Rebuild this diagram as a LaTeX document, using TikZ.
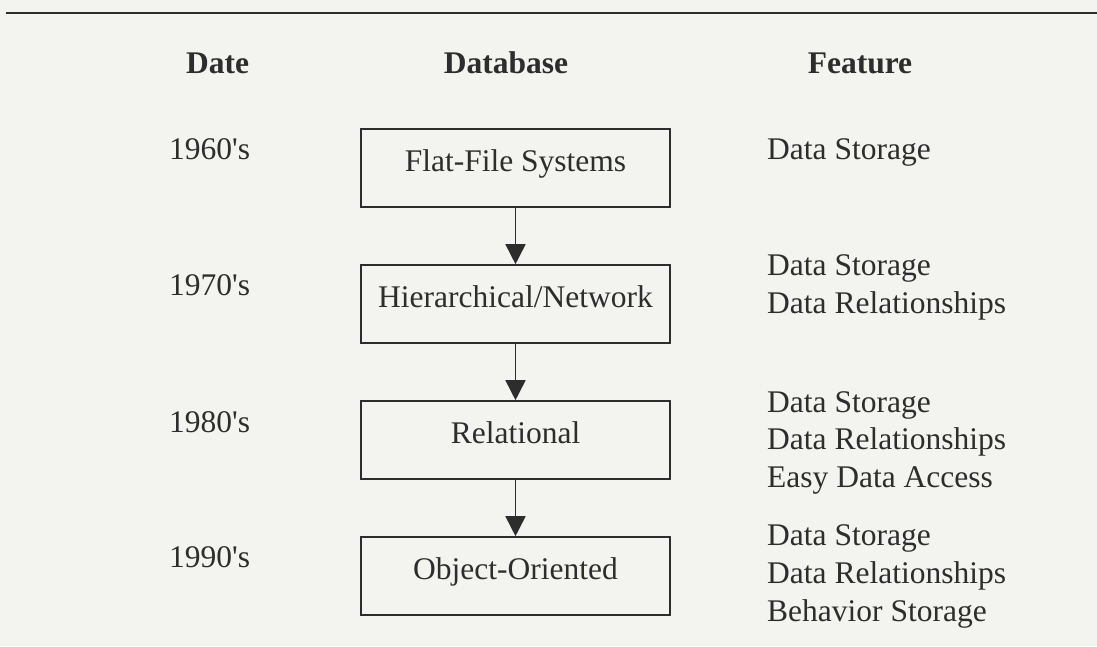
\documentclass[tikz,border=0pt]{standalone}
\usepackage{fontspec}
\setmainfont{Liberation Serif}
\usetikzlibrary{arrows.meta}
\definecolor{ink}{RGB}{45,45,45}
\definecolor{paper}{RGB}{243,244,239}
\newcommand{\ap}{\textquotesingle}
\begin{document}
\begin{tikzpicture}[x=1pt,y=-1pt,
  every node/.style={text=ink,font=\fontsize{31.5}{37.5}\selectfont,inner sep=0pt},
  dbbox/.style={draw=ink,line width=1.6pt,minimum width=309pt,minimum height=78pt,text height=21pt,text depth=15pt},
  head/.style={anchor=base,font=\fontsize{31.5}{37.5}\selectfont\bfseries},
  datetxt/.style={anchor=base west},
  feat/.style={anchor=base west},
  conn/.style={draw=ink,line width=1.6pt,-{Triangle[length=20pt,width=20pt]}}]
\fill[paper] (0,0) rectangle (1097,646);
\useasboundingbox (0,0) rectangle (1097,646);
\coordinate (l1) at (6,13);
\coordinate (l2) at (1097,13);
\draw[ink,line width=2.2pt] (l1) -- (l2);
% headers
\node[head] (hdate) at (217.5,73) {Date};
\node[head] (hdb) at (506,73) {Database};
\node[head] (hfeat) at (860,73) {Feature};
% boxes
\node[dbbox] (b1) at (515.5,168) {Flat-File Systems};
\node[dbbox] (b2) at (515.5,304) {Hierarchical/Network};
\node[dbbox] (b3) at (515.5,440) {Relational};
\node[dbbox] (b4) at (515.5,576) {Object-Oriented};
\draw[conn] (b1.south) -- (b2.north);
\draw[conn] (b2.south) -- (b3.north);
\draw[conn] (b3.south) -- (b4.north);
% dates
\node[datetxt] (d1) at (169,159) {1960\ap s};
\node[datetxt] (d2) at (169,295) {1970\ap s};
\node[datetxt] (d3) at (169,432) {1980\ap s};
\node[datetxt] (d4) at (169,567) {1990\ap s};
% features
\node[feat] (f1a) at (767,159) {Data Storage};
\node[feat] (f2a) at (767,275) {Data Storage};
\node[feat] (f2b) at (767,313) {Data Relationships};
\node[feat] (f3a) at (767,412) {Data Storage};
\node[feat] (f3b) at (767,449.5) {Data Relationships};
\node[feat] (f3c) at (767,487.5) {Easy Data Access};
\node[feat] (f4a) at (767,545) {Data Storage};
\node[feat] (f4b) at (767,583) {Data Relationships};
\node[feat] (f4c) at (767,621) {Behavior Storage};
\end{tikzpicture}
\end{document}
